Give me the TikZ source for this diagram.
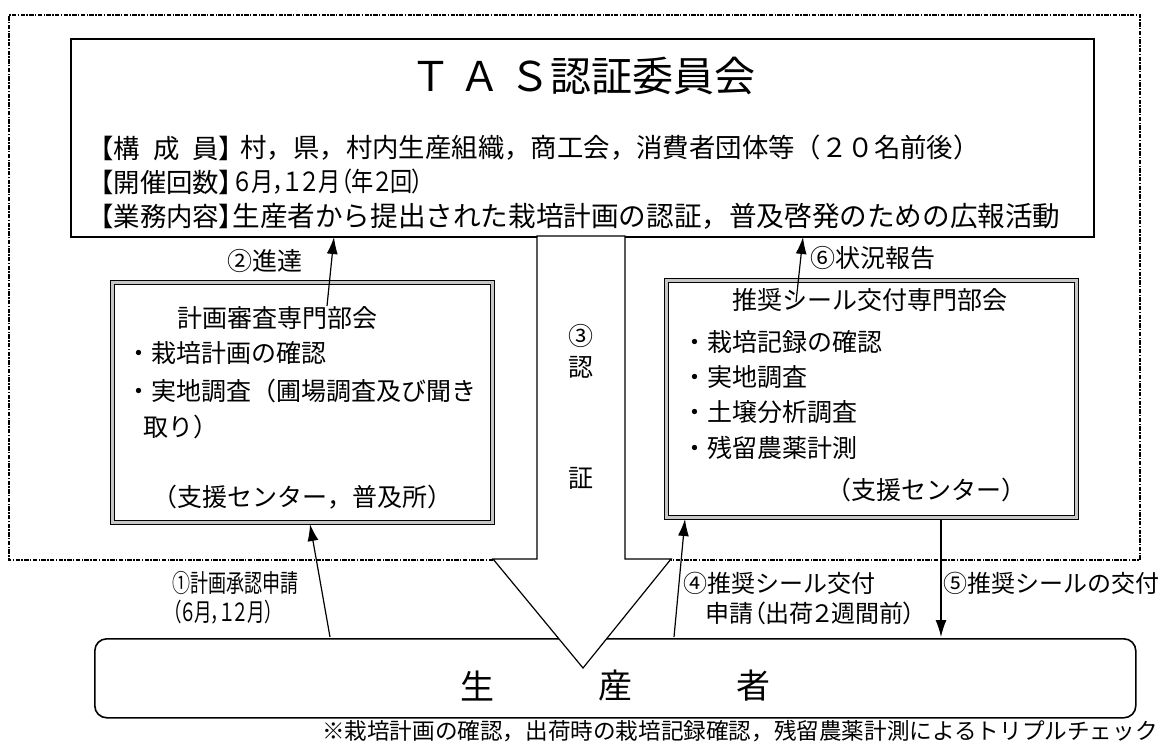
\documentclass[tikz,border=0pt]{standalone}
\usepackage{fontspec}
\setmainfont{Noto Sans CJK JP}
\newfontfamily\pj{Noto Sans CJK JP}[RawFeature=+palt]
\newfontfamily\condjp{Noto Sans CJK JP}[FakeStretch=0.72]
\newfontfamily\condpj{Noto Sans CJK JP}[FakeStretch=0.7,RawFeature=+palt]
\newfontfamily\semipj{Noto Sans CJK JP}[FakeStretch=0.84,RawFeature=+palt]
\usetikzlibrary{arrows.meta,calc}
\begin{document}
\begin{tikzpicture}[x=0.5pt,y=-0.5pt,
  txt/.style={inner sep=0pt, font=\fontsize{12}{14}\selectfont},
  btxt/.style={inner sep=0pt, font=\fontsize{12.5}{14}\selectfont},
  ctxt/.style={inner sep=0pt, font=\fontsize{13.2}{15}\selectfont},
  arr/.style={line width=0.6pt, -{Latex[length=8.5pt,width=5.5pt]}},
  subbox/.style={draw, line width=0.45pt, double=gray!45, double distance=1.6pt, inner sep=0pt, anchor=north west},
  outline/.style={line width=0.6pt, dash pattern=on 2.2pt off 0.7pt on 0.7pt off 0.7pt},
]
\useasboundingbox (0,0) rectangle (1176,749);

% outer dashed frame
\draw[outline] (493,560) -- (9,560) -- (9,15) -- (1140,15) -- (1140,560) -- (671,560);

% committee
\node[draw, line width=1pt, anchor=north west, minimum width=511.5pt, minimum height=99pt, inner sep=0pt] (comm) at (70,38) {};
\node[inner sep=0pt, font=\fontsize{20.5}{22}\selectfont] (title) at (583,76) {Ｔ\hspace{0.2em}Ａ\hspace{0.2em}Ｓ認証委員会};
\node[ctxt, anchor=west] (lab1) at (100,148) {\pj 【構\hspace{0.5em}成\hspace{0.5em}員】};
\node[ctxt, anchor=west] (lab2) at (100,182) {\pj 【開催回数】};
\node[ctxt, anchor=west] (lab3) at (100,216) {\pj 【業務内容】};
\node[ctxt, anchor=west] (val1) at (240,148) {村，県，村内生産組織，商工会，消費者団体等（２０名前後）};
\node[ctxt, anchor=west] (val2) at (234,182) {\semipj ６月，１２月（年２回）};
\node[ctxt, anchor=west, font=\fontsize{13.8}{15}\selectfont] (val3) at (232,216) {生産者から提出された栽培計画の認証，普及啓発のための広報活動};

% sub boxes
\node[subbox, minimum width=190pt, minimum height=120pt] (lsub) at (112,282) {};
\node[subbox, minimum width=205pt, minimum height=118.5pt] (rsub) at (666,280) {};

\node[btxt] (ltitle) at (277,318) {計画審査専門部会};
\node[btxt, anchor=west] (lb1) at (126,353) {・栽培計画の確認};
\node[btxt, anchor=west] (lb2) at (126,391) {・実地調査（圃場調査及び聞き};
\node[btxt, anchor=west] (lb3) at (143,427) {取り）};
\node[btxt] (lorg) at (302,497) {（支援センター，普及所）};

\node[btxt] (rtitle) at (870,300) {推奨シール交付専門部会};
\node[btxt, anchor=west] (rb1) at (682,342) {・栽培記録の確認};
\node[btxt, anchor=west] (rb2) at (682,377) {・実地調査};
\node[btxt, anchor=west] (rb3) at (682,412) {・土壌分析調査};
\node[btxt, anchor=west] (rb4) at (682,448) {・残留農薬計測};
\node[btxt] (rorg) at (926,490) {（支援センター）};

% producer
\node[draw, line width=0.8pt, rounded corners=6pt, anchor=north west, minimum width=520.5pt, minimum height=39.5pt, inner sep=0pt] (prod) at (94,638) {};
\node[inner sep=0pt, font=\fontsize{17}{20}\selectfont] (p1) at (477,686) {生};
\node[inner sep=0pt, font=\fontsize{17}{20}\selectfont] (p2) at (615,686) {産};
\node[inner sep=0pt, font=\fontsize{17}{20}\selectfont] (p3) at (753,686) {者};

% block arrow (3) certification
\draw[line width=0.6pt, fill=white] (537,236) -- (537,559) -- (493,559) -- (583,668) -- (671,559) -- (625,559) -- (625,236) -- cycle;
\node[btxt] (c3) at (581,336) {③};
\node[btxt] (c3a) at (581,367) {認};
\node[btxt] (c3b) at (581,478) {証};

% arrow labels
\node[btxt] (l2) at (265,261) {②進達};
\node[btxt, anchor=west] (l6) at (810,258) {⑥状況報告};
\node[inner sep=0pt, font=\fontsize{12.5}{14}\selectfont, anchor=west] (l1a) at (172,583) {\condjp ①計画承認申請};
\node[inner sep=0pt, font=\fontsize{12.5}{14}\selectfont, anchor=west] (l1b) at (172,612) {\condpj （６月，１２月）};
\node[txt, anchor=west] (l4a) at (683,583) {④推奨シール交付};
\node[txt, anchor=west] (l4b) at (705,613) {\pj 申請（出荷２週間前）};
\node[txt, anchor=west] (l5) at (943,583) {⑤推奨シールの交付};
\node[inner sep=0pt, font=\fontsize{11.3}{13}\selectfont, anchor=east] (foot) at (1158,731) {※栽培計画の確認，出荷時の栽培記録確認，残留農薬計測によるトリプルチェック};

% connectors
\coordinate (t2) at (327,306); \coordinate (h2) at (334,237);
\coordinate (t6) at (796,302); \coordinate (h6) at (803,237);
\coordinate (t1) at (330,637); \coordinate (h1) at (310,524);
\coordinate (t4) at (674,637); \coordinate (h4) at (685,519);
\coordinate (t5) at (941,519); \coordinate (h5) at (941,637);
\draw[arr] (t2) -- (h2);
\draw[arr] (t6) -- (h6);
\draw[arr] (t1) -- (h1);
\draw[arr] (t4) -- (h4);
\draw[arr] (t5) -- (h5);
\end{tikzpicture}
\end{document}
